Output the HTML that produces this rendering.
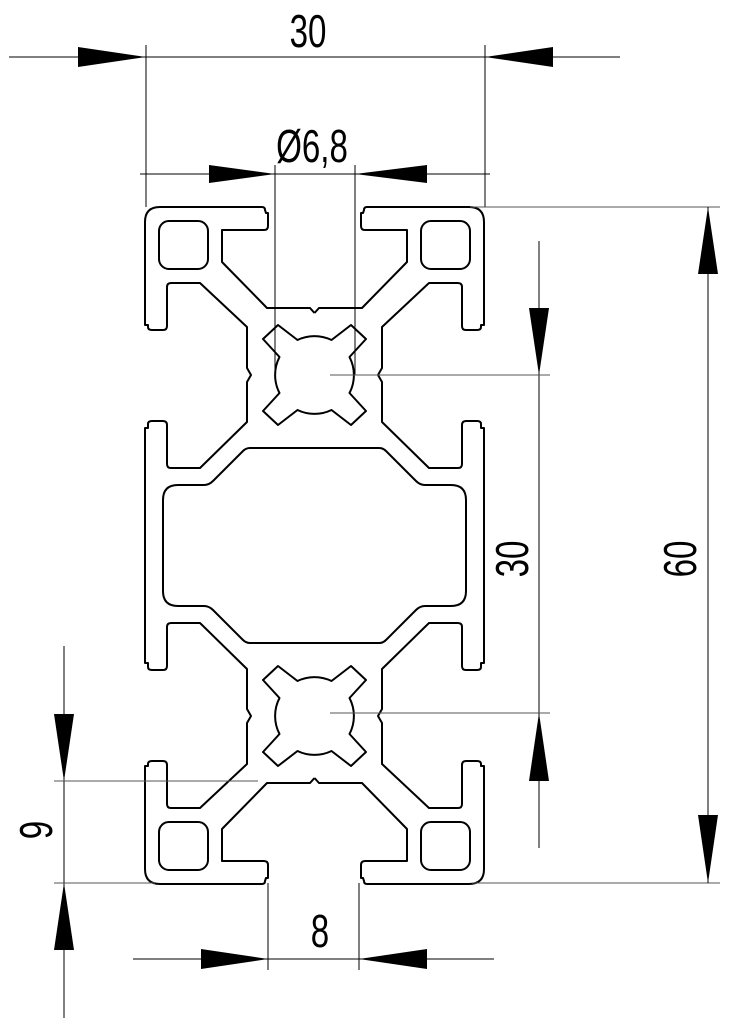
<!DOCTYPE html>
<html><head><meta charset="utf-8"><style>
html,body{margin:0;padding:0;background:#fff;}
svg{display:block;}
text{font-family:"Liberation Sans",sans-serif;fill:#000;}
</style></head><body>
<svg width="729" height="1024" viewBox="0 0 729 1024" xmlns="http://www.w3.org/2000/svg">
<defs>
<g id="q" fill="none" stroke="#000" stroke-width="2" stroke-linejoin="round">
<path d="M314.5,313 L310,308 L267,308 L222,262 L222,230 L264,230 Q268,230 268,226 L268,213 L266,213 L265,210 Q265,207 262,207 L160,207 Q145,207 145,222 L145,325 L148,325 L148,327 Q148,330 152,330 L163,330 Q167,330 167,326 L167,287 Q167,283 171,283 L200,283 L247,327 L247,368 L251,375 L247,382 L247,422 L200,468 L171,468 Q167,468 167,464 L167,425 Q167,421 163,421 L152,421 Q148,421 148,424 L148,428 L145,428 L145,545.5"/>
<path d="M314.5,448 L250,448 Q246,448 243,451 L213,481 Q209,485 204,485 L178,485 Q163,485 163,500 L163,545.5"/>
<rect x="159" y="221" width="49" height="48" rx="10"/>
</g>
<path id="slot" fill="none" stroke="#000" stroke-width="2" stroke-linejoin="round" d="M-17,-35 L-36.5,-50 L-51.5,-36 L-35,-18 A39,39 0 0 0 -35,18 L-51.5,36 L-36.5,50 L-17,35 A39,39 0 0 0 17,35 L36.5,50 L51.5,36 L35,18 A39,39 0 0 0 35,-18 L51.5,-36 L36.5,-50 L17,-35 A39,39 0 0 0 -17,-35 Z"/>
<g id="half">
<use href="#q"/>
<use href="#q" transform="translate(629,0) scale(-1,1)"/>
</g>
</defs>
<use href="#half"/>
<use href="#half" transform="translate(0,1091) scale(1,-1)"/>
<use href="#slot" transform="translate(314.5,375)"/>
<use href="#slot" transform="translate(314.5,716)"/>

<g stroke="#000" stroke-width="1" fill="none">
<line x1="9" y1="57" x2="620" y2="57"/>
<line x1="146" y1="45" x2="146" y2="207"/>
<line x1="485" y1="45" x2="485" y2="207"/>
<line x1="140" y1="174" x2="490" y2="174"/>
<line x1="275" y1="165" x2="275" y2="375"/>
<line x1="355" y1="165" x2="355" y2="375"/>
<line x1="470" y1="207" x2="720" y2="207" stroke="#555"/>
<line x1="472" y1="883" x2="720" y2="883" stroke="#555"/>
<line x1="708" y1="207" x2="708" y2="883"/>
<line x1="539" y1="241" x2="539" y2="848"/>
<line x1="330" y1="375" x2="550" y2="375" stroke="#555"/>
<line x1="330" y1="713" x2="550" y2="713" stroke="#555"/>
<line x1="64" y1="646" x2="64" y2="1018"/>
<line x1="54" y1="781" x2="258" y2="781" stroke="#555"/>
<line x1="54" y1="883" x2="155" y2="883" stroke="#555"/>
<line x1="133" y1="959" x2="494" y2="959"/>
<line x1="268" y1="883" x2="268" y2="970"/>
<line x1="359" y1="883" x2="359" y2="970"/>
</g>

<g fill="#000">
<polygon points="146,57 78,47 78,67"/>
<polygon points="485,57 553,47 553,67"/>
<polygon points="275,174 209,165 209,183"/>
<polygon points="355,174 427,165 427,183"/>
<polygon points="708,207 698,274 718,274"/>
<polygon points="708,883 698,815 718,815"/>
<polygon points="539,375 529,308 549,308"/>
<polygon points="539,713 529,781 549,781"/>
<polygon points="64,781 54,714 74,714"/>
<polygon points="64,883 54,950 74,950"/>
<polygon points="268,959 201,949 201,969"/>
<polygon points="359,959 427,949 427,969"/>
</g>

<g font-size="46">
<text x="308" y="47" text-anchor="middle" transform="translate(308,0) scale(0.72,1) translate(-308,0)">30</text>
<text x="312" y="162" text-anchor="middle" transform="translate(312,0) scale(0.72,1) translate(-312,0)">Ø6,8</text>
<text x="320" y="947" text-anchor="middle" transform="translate(320,0) scale(0.72,1) translate(-320,0)">8</text>
<text transform="translate(528,559) rotate(-90) scale(0.72,1)" text-anchor="middle">30</text>
<text transform="translate(696,559) rotate(-90) scale(0.72,1)" text-anchor="middle">60</text>
<text transform="translate(52,830) rotate(-90) scale(0.72,1)" text-anchor="middle">9</text>
</g>
</svg>
</body></html>
